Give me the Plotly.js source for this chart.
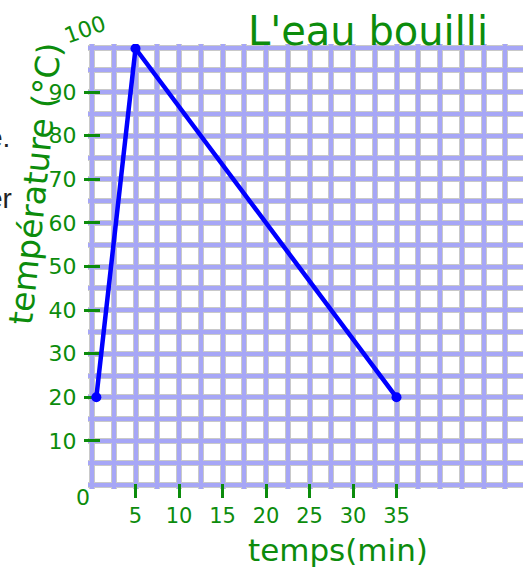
<!DOCTYPE html>
<html>
<head>
<meta charset="utf-8">
<script src="https://cdn.plot.ly/plotly-3.0.1.min.js"></script>
<style>html,body{margin:0;padding:0;background:#fff;}#chart{width:523px;height:569px;}</style>
</head>
<body>
<div id="chart"></div>
<script>
// ---- data ----
var timeMin = [0.5, 5, 35];
var tempC = [20, 100, 20];
var xTickVals = [5, 10, 15, 20, 25, 30, 35];
var xTickText = ['5', '10', '15', '20', '25', '30', '35'];
var yTickVals = [10, 20, 30, 40, 50, 60, 70, 80, 90];
var yTickText = ['10', '20', '30', '40', '50', '60', '70', '80', '90'];
var cornerLabels = [{text: '0', x: 0, y: 0}, {text: '100', x: 0, y: 100}];
var titleText = "L'eau bouilli";
var xTitle = 'temps(min)';
var yTitle = 'température (°C)';
var sideFragments = ['e.', 'er'];

// ---- style ----
var green = '#0c8c0c';
var lav = '#a6a6f6';
var grey = '#c9c9c9';
var hand = 'DejaVu Sans';
var xRange = [-0.46, 49.54];
var yRange = [-1.03, 101.03];

var traces = [
  {x: timeMin, y: tempC, mode: 'lines', xaxis: 'x', yaxis: 'y',
   line: {color: '#0000ff', width: 4.5}, hoverinfo: 'skip', showlegend: false},
  {x: timeMin, y: tempC, mode: 'markers', xaxis: 'x2', yaxis: 'y2',
   marker: {color: '#0000ff', size: 10}, hoverinfo: 'skip', showlegend: false}
];

var annotations = [];
cornerLabels.forEach(function (c) {
  var isTop = c.y === 100;
  annotations.push({
    text: c.text, x: c.x, y: c.y, xref: 'x', yref: 'y', showarrow: false,
    xshift: isTop ? -7 : -9, yshift: isTop ? 19 : -13, textangle: isTop ? -20 : 0,
    font: {family: hand, size: 22, color: green}
  });
});
annotations.push({text: xTitle, xref: 'paper', yref: 'paper', x: 0.575, y: -0.137,
  xanchor: 'center', yanchor: 'middle', showarrow: false,
  font: {family: hand, size: 31, color: green}});
annotations.push({text: yTitle, xref: 'paper', yref: 'paper', x: -0.122, y: 0.687,
  xanchor: 'center', yanchor: 'middle', showarrow: false, textangle: -84,
  font: {family: hand, size: 33, color: green}});
annotations.push({text: sideFragments[0], xref: 'paper', yref: 'paper', x: -0.175, y: 0.789,
  xanchor: 'right', yanchor: 'middle', showarrow: false,
  font: {family: 'Liberation Sans, Arial, sans-serif', size: 28, color: '#222'}});
annotations.push({text: sideFragments[1], xref: 'paper', yref: 'paper', x: -0.170, y: 0.652,
  xanchor: 'right', yanchor: 'middle', showarrow: false,
  font: {family: 'Liberation Sans, Arial, sans-serif', size: 28, color: '#222'}});

var layout = {
  width: 523, height: 569,
  margin: {l: 88, r: 0, t: 44, b: 80, pad: 0},
  paper_bgcolor: '#fff', plot_bgcolor: '#fff',
  showlegend: false,
  title: {text: titleText, x: 368 / 523, xref: 'container', xanchor: 'center',
          y: 1 - 31 / 569, yref: 'container', yanchor: 'middle',
          font: {family: hand, size: 40, color: green}},
  xaxis: {range: xRange, anchor: 'free', position: 0.0135, tickmode: 'array',
          tickvals: xTickVals, ticktext: xTickText, ticks: 'outside', ticklen: 14,
          tickwidth: 3, tickcolor: green, showline: false, zeroline: false,
          showgrid: true, gridcolor: grey, gridwidth: 6, layer: 'below traces',
          ticklabelstandoff: 0,
          minor: {tick0: 0, dtick: 2.5, showgrid: true, gridcolor: grey, gridwidth: 6, ticks: ''},
          tickfont: {family: hand, size: 21, color: green}, fixedrange: true},
  yaxis: {range: yRange, anchor: 'free', position: 0.0276, tickmode: 'array',
          tickvals: yTickVals, ticktext: yTickText, ticks: 'outside', ticklen: 16,
          tickwidth: 3, tickcolor: green, showline: false, zeroline: false,
          showgrid: true, gridcolor: grey, gridwidth: 6, layer: 'below traces',
          ticklabelstandoff: 3,
          minor: {tick0: 0, dtick: 5, showgrid: true, gridcolor: grey, gridwidth: 6, ticks: ''},
          tickfont: {family: hand, size: 22, color: green}, fixedrange: true},
  xaxis2: {range: xRange, overlaying: 'x', anchor: 'y2', tickmode: 'linear', tick0: 0, dtick: 2.5,
           showgrid: true, gridcolor: lav, gridwidth: 4, showticklabels: false,
           ticks: '', zeroline: false, showline: false, fixedrange: true},
  yaxis2: {range: yRange, overlaying: 'y', anchor: 'x2', tickmode: 'linear', tick0: 0, dtick: 5,
           showgrid: true, gridcolor: lav, gridwidth: 4, showticklabels: false,
           ticks: '', zeroline: false, showline: false, fixedrange: true},
  annotations: annotations
};

Plotly.newPlot('chart', traces, layout, {displayModeBar: false, staticPlot: true});
</script>
</body>
</html>
